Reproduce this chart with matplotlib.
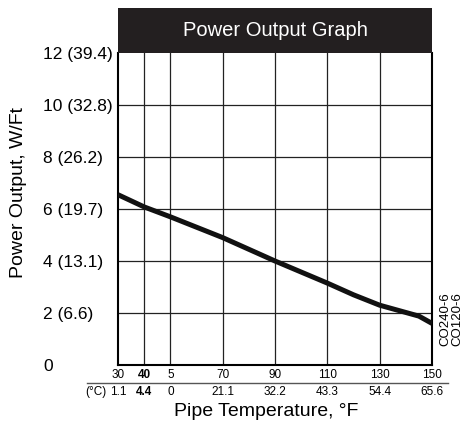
import numpy as np
import matplotlib
matplotlib.use('Agg')
import matplotlib.pyplot as plt
from matplotlib.lines import Line2D
from matplotlib.transforms import blended_transform_factory

plt.rcParams['font.family'] = ['Liberation Sans', 'DejaVu Sans']

# data
temp_f = [30, 40, 50, 70, 90, 110, 120, 130, 140, 145, 150]
power = [6.55, 6.08, 5.7, 4.9, 4.0, 3.15, 2.7, 2.3, 2.02, 1.88, 1.6]

xticks_f = [30, 40, 50, 70, 90, 110, 130, 150]
xlabels_f = ['30', '40', '5', '70', '90', '110', '130', '150']
xlabels_c = ['1.1', '4.4', '0', '21.1', '32.2', '43.3', '54.4', '65.6']
yticks = [0, 2, 4, 6, 8, 10, 12]
ylabels = ['0', '2 (6.6)', '4 (13.1)', '6 (19.7)', '8 (26.2)', '10 (32.8)', '12 (39.4)']

W, H = 466, 429
fig = plt.figure(figsize=(W / 100, H / 100), dpi=100)
L, R, B, T = 118, 432, 365, 53
ax = fig.add_axes([L / W, 1 - B / H, (R - L) / W, (B - T) / H])

ax.plot(temp_f, power, color='#111111', lw=3.6, solid_capstyle='butt', zorder=3)

ax.set_xlim(30, 150)
ax.set_ylim(0, 12)
ax.set_xticks(xticks_f)
ax.set_xticklabels(xlabels_f, fontsize=8.5)
ax.set_yticks(yticks)
ax.set_yticklabels(ylabels, fontsize=12.5)
for lab in ax.get_yticklabels():
    lab.set_horizontalalignment('left')
ax.tick_params(axis='y', length=0, pad=54)
ax.tick_params(axis='x', length=0, pad=3)
for lab, txt in zip(ax.get_xticklabels(), xlabels_f):
    if txt == '40':
        lab.set_fontweight('bold')

# grid
for x in xticks_f[1:-1]:
    ax.axvline(x, color='#222222', lw=0.9, zorder=1)
for y in yticks[1:-1]:
    ax.axhline(y, color='#222222', lw=0.9, zorder=1)
for s in ['left', 'bottom', 'right']:
    ax.spines[s].set_linewidth(1.5)
ax.spines['top'].set_visible(False)

# Celsius row
tr = blended_transform_factory(ax.transData, ax.transAxes)
for x, c in zip(xticks_f, xlabels_c):
    ax.text(x, -0.087, c, transform=tr, ha='center', va='center', fontsize=8.5,
            fontweight='bold' if c == '4.4' else 'normal')
fig.text(106 / W, 1 - 392 / H, '(°C)', ha='right', va='center', fontsize=8.5)
fig.add_artist(Line2D([87 / W, 448 / W], [1 - 383 / H, 1 - 383 / H], color='#555555', lw=1.0))

# title bar
tax = fig.add_axes([L / W, 1 - T / H, (R - L) / W, (T - 8) / H])
tax.set_facecolor('#231f20')
tax.set_xticks([])
tax.set_yticks([])
for s in tax.spines.values():
    s.set_visible(False)
tax.text(0.5, 0.5, 'Power Output Graph', color='white', fontsize=14.5,
         ha='center', va='center', transform=tax.transAxes)

fig.text(19 / W, 1 - 192 / H, 'Power Output, W/Ft', rotation=90, fontsize=14,
         ha='center', va='center')
fig.text(266 / W, 1 - 412 / H, 'Pipe Temperature, °F', fontsize=14,
         ha='center', va='center')
fig.text(445 / W, 1 - 319 / H, 'CO240-6', rotation=90, fontsize=9.5, ha='center', va='center')
fig.text(457 / W, 1 - 319 / H, 'CO120-6', rotation=90, fontsize=9.5, ha='center', va='center')

fig.savefig('out.png', dpi=100, facecolor='white')
